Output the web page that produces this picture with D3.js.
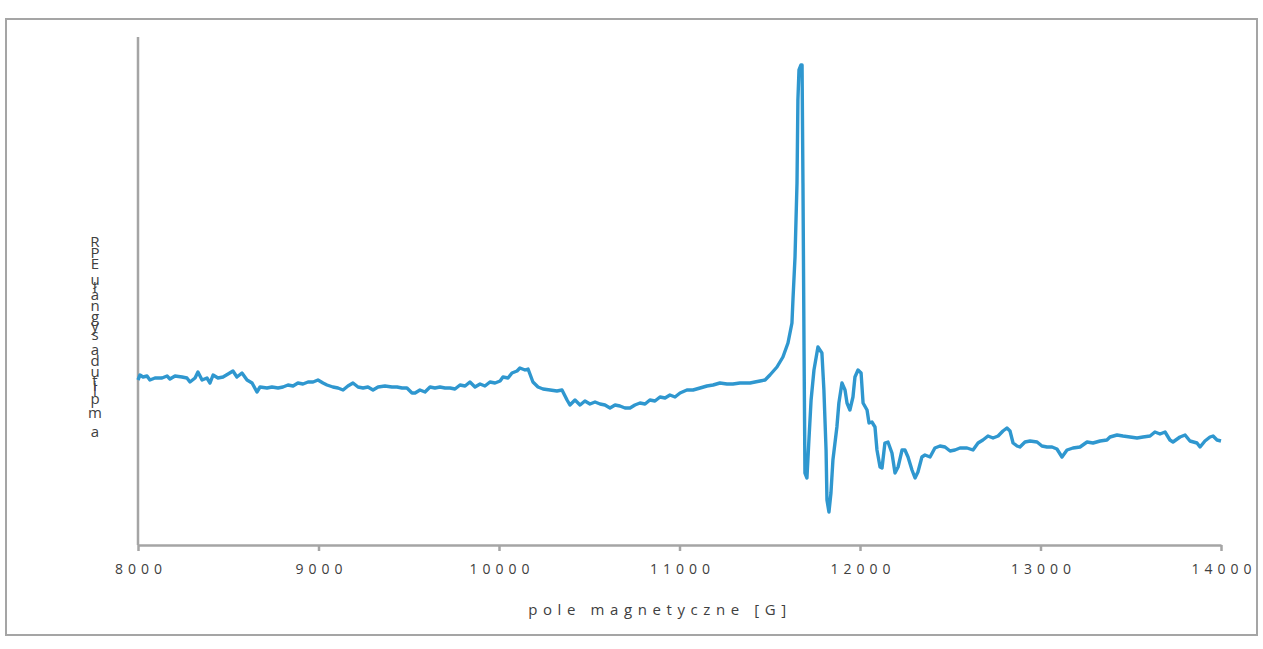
<!DOCTYPE html>
<html>
<head>
<meta charset="utf-8">
<script src="https://cdn.jsdelivr.net/npm/d3@7"></script>
<style>
  body { margin: 0; background: #fff; }
  svg { display: block; }
</style>
</head>
<body>
<svg id="chart" width="1263" height="649"></svg>
<script>
// magnetic field [G]
const field = [
  8000,8011,8028,8050,8066,8094,8133,8161,8177,8205,
  8244,8271,8288,8316,8332,8355,8382,8399,8416,8443,
  8471,8499,8526,8548,8576,8604,8632,8659,8676,8715,
  8742,8776,8803,8831,8859,8886,8914,8942,8970,8997,
  9025,9047,9080,9108,9136,9163,9191,9219,9247,9274,
  9302,9330,9368,9407,9435,9463,9490,9518,9535,9562,
  9590,9618,9645,9673,9701,9729,9756,9784,9812,9839,
  9867,9895,9922,9950,9978,10006,10022,10050,10072,10100,
  10116,10144,10161,10188,10216,10244,10283,10321,10349,10377,
  10393,10421,10449,10476,10504,10532,10560,10587,10615,10643,
  10670,10698,10726,10753,10781,10809,10836,10864,10892,10920,
  10947,10975,11003,11041,11075,11114,11152,11186,11224,11263,
  11296,11335,11374,11391,11418,11446,11474,11501,11540,11573,
  11601,11623,11629,11640,11651,11656,11662,11673,11679,11684,
  11690,11695,11706,11717,11729,11745,11767,11789,11800,11812,
  11817,11828,11839,11850,11872,11883,11900,11917,11928,11944,
  11961,11972,11989,12006,12017,12039,12050,12066,12083,12094,
  12111,12122,12138,12155,12177,12194,12211,12233,12249,12266,
  12288,12305,12321,12343,12360,12388,12415,12443,12471,12499,
  12526,12554,12593,12626,12654,12681,12709,12737,12765,12792,
  12814,12831,12848,12870,12886,12914,12942,12981,13008,13036,
  13064,13091,13119,13147,13180,13219,13258,13291,13330,13368,
  13385,13424,13457,13496,13535,13568,13607,13634,13662,13690,
  13717,13734,13773,13801,13828,13867,13884,13911,13939,13956,
  13978,14000
];

// EPR signal amplitude, arbitrary units
const amplitude = [
  165,170,168,169,165,167,167,169,166,169,
  168,167,163,167,173,165,167,162,170,167,
  168,171,174,168,172,165,162,153,158,157,
  158,157,158,160,159,162,161,163,163,165,
  162,160,158,157,155,159,162,158,157,158,
  155,158,159,158,158,157,157,152,152,155,
  153,158,157,158,157,157,156,160,159,163,
  158,161,159,163,162,164,168,167,172,174,
  177,175,176,163,158,156,155,154,155,145,
  140,145,140,144,141,143,141,140,137,140,
  139,137,137,140,142,141,145,144,148,147,
  150,148,152,155,155,157,159,160,162,161,
  161,162,162,162,163,164,165,170,178,188,
  202,222,247,288,362,445,475,480,480,362,
  195,72,67,105,145,175,198,192,155,95,
  45,33,52,85,118,142,162,155,142,135,
  148,168,175,172,142,135,122,123,118,95,
  78,77,102,103,92,72,78,95,95,88,
  75,67,73,88,90,88,97,99,98,94,
  95,97,97,95,102,105,109,107,109,114,
  117,114,102,99,98,103,104,103,99,98,
  98,96,88,95,97,98,103,102,104,105,
  108,110,109,108,107,108,109,113,111,113,
  105,103,108,110,104,102,98,104,108,109,
  105,104
];

const xTicks = [8000, 9000, 10000, 11000, 12000, 13000, 14000];
const xTitle = "pole magnetyczne [G]";
const yTitle = "amplituda sygnału EPR";

const svg = d3.select("#chart");
const axisColor = "#a5a5a5";
const textColor = "#404040";
const font = "'Open Sans', sans-serif";

// outer frame
svg.append("rect")
  .attr("x", 6).attr("y", 19)
  .attr("width", 1251).attr("height", 616)
  .attr("fill", "none")
  .attr("stroke", axisColor)
  .attr("stroke-width", 2);

const x = d3.scaleLinear().domain([8000, 14000]).range([138, 1221]);
const y = d3.scaleLinear().domain([0, 508]).range([545, 37]);

// y axis (no ticks)
svg.append("line")
  .attr("x1", x(8000)).attr("x2", x(8000))
  .attr("y1", y(508)).attr("y2", y(0))
  .attr("stroke", axisColor).attr("stroke-width", 2.5);

// x axis
const xAxis = svg.append("g")
  .attr("transform", `translate(0,${y(0)})`)
  .call(d3.axisBottom(x).tickValues(xTicks).tickSize(6).tickSizeOuter(0).tickPadding(13)
    .tickFormat(d3.format("d")));
xAxis.select(".domain").attr("stroke", axisColor).attr("stroke-width", 2.5);
xAxis.selectAll(".tick line").attr("stroke", axisColor).attr("stroke-width", 2.5);
xAxis.selectAll(".tick text")
  .attr("fill", textColor)
  .style("font-family", font)
  .style("font-size", "14px")
  .style("letter-spacing", "5px")
  .attr("dx", "2.5px");

svg.append("text")
  .attr("x", 660).attr("y", 615)
  .attr("text-anchor", "middle")
  .attr("fill", textColor)
  .style("font-family", font)
  .style("font-size", "15px")
  .style("letter-spacing", "5.6px")
  .text(xTitle);

// y title: upright glyphs stacked from bottom to top
const yt = svg.append("text")
  .attr("fill", textColor)
  .attr("text-anchor", "middle")
  .style("font-family", font)
  .style("font-size", "15px")
  .text(yTitle);
const chars = Array.from(yTitle);
const probe = svg.append("text")
  .style("font-family", font)
  .style("font-size", "15px");
const widths = chars.map(c => {
  probe.text(c === " " ? "\u00a0" : c);
  return probe.node().getComputedTextLength();
});
probe.remove();
const total = d3.sum(widths);
const k = (432 - 247) / (total - widths[widths.length - 1] / 2 - widths[0] / 2);
let acc = 0;
const ys = widths.map((w) => {
  const pos = 432 - (acc + w / 2 - widths[0] / 2) * k;
  acc += w;
  return pos;
});
yt.attr("x", chars.map(() => 95).join(" "))
  .attr("y", ys.map(v => v.toFixed(1)).join(" "))
  .attr("dy", "0.35em");

// signal
const points = field.map((f, i) => [f, amplitude[i]]);
svg.append("path")
  .datum(points)
  .attr("fill", "none")
  .attr("stroke", "#2f97cf")
  .attr("stroke-width", 3.4)
  .attr("stroke-linejoin", "round")
  .attr("d", d3.line().x(d => x(d[0])).y(d => y(d[1])));
</script>
</body>
</html>
